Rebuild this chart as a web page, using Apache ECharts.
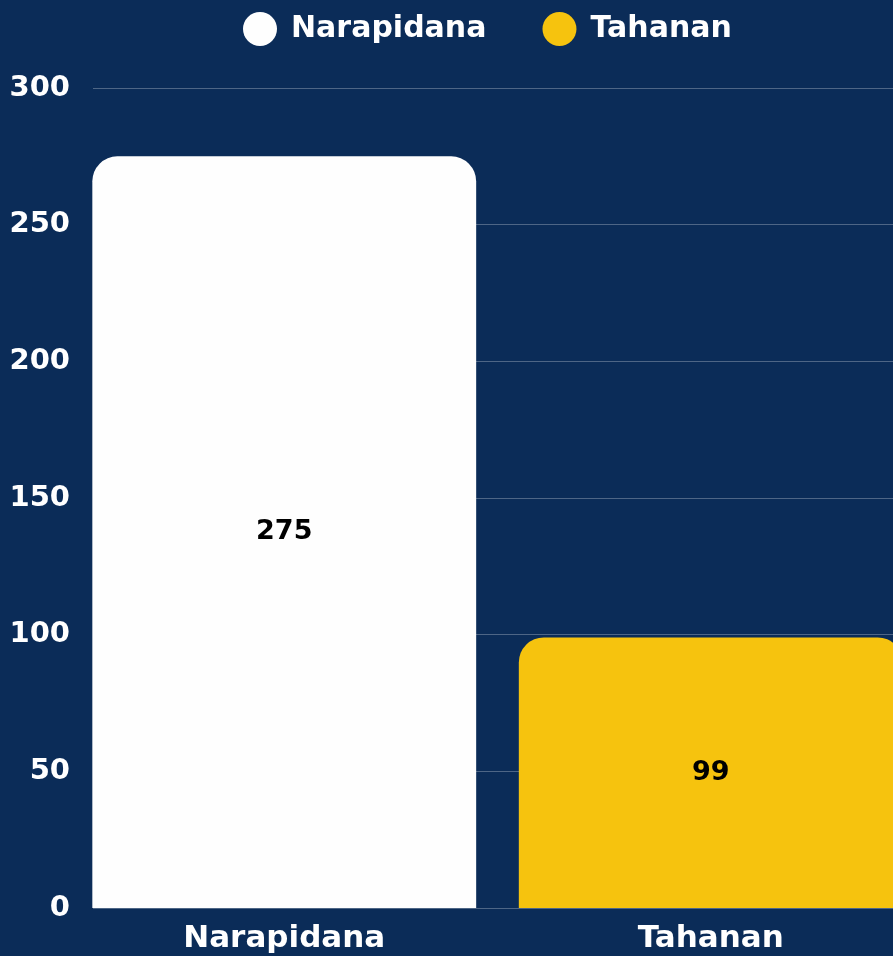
<!DOCTYPE html>
<html>
<head>
<meta charset="utf-8">
<script src="https://cdn.jsdelivr.net/npm/echarts@6/dist/echarts.min.js"></script>
<style>
  html, body { margin: 0; padding: 0; background: #0b2c58; }
  #chart { width: 893px; height: 956px; }
</style>
</head>
<body>
<div id="chart"></div>
<script>
// data
var categories = ["Narapidana", "Tahanan"];
var values = [275, 99];
var barColors = ["#fefefe", "#f6c30e"];
var yTicks = [0, 50, 100, 150, 200, 250, 300];

var font = "'DejaVu Sans', sans-serif";

var chart = echarts.init(document.getElementById("chart"));

// one series per category so the legend shows both
var series = categories.map(function (name, i) {
  return {
    name: name,
    type: "bar",
    xAxisIndex: 1,
    yAxisIndex: 1,
    stack: "all",
    barCategoryGap: "10%",
    data: values.map(function (v, j) { return j === i ? v : "-"; }),
    itemStyle: { color: barColors[i], borderRadius: [25, 25, 0, 0] },
    label: {
      show: true,
      position: "inside",
      color: "#000",
      fontFamily: font,
      fontWeight: "bold",
      fontSize: 27
    }
  };
});

var option = {
  backgroundColor: "#0b2c58",
  color: barColors,
  legend: {
    data: categories,
    top: 7,
    left: 238,
    icon: "circle",
    itemWidth: 34,
    itemHeight: 34,
    itemGap: 56,
    textStyle: {
      color: "#fff",
      fontFamily: font,
      fontWeight: "bold",
      fontSize: 30,
      padding: [0, 0, 0, 9]
    }
  },
  grid: [
    // grid for the gridlines and y labels
    { left: 93, right: 0, top: 88, bottom: 48, outerBoundsMode: "none" },
    // grid for the bars (runs past the right edge)
    { left: 71, right: -31, top: 88, bottom: 48, outerBoundsMode: "none" }
  ],
  xAxis: [
    { type: "category", gridIndex: 0, data: categories, show: false },
    {
      type: "category",
      gridIndex: 1,
      data: categories,
      axisLine: { show: false },
      axisTick: { show: false },
      axisLabel: {
        color: "#fff",
        fontFamily: font,
        fontWeight: "bold",
        fontSize: 31,
        margin: 15
      }
    }
  ],
  yAxis: [
    {
      type: "value",
      gridIndex: 0,
      min: yTicks[0],
      max: yTicks[yTicks.length - 1],
      interval: 50,
      axisLine: { show: false },
      axisTick: { show: false },
      axisLabel: {
        color: "#fff",
        fontFamily: font,
        fontWeight: "bold",
        fontSize: 29,
        margin: 23
      },
      splitLine: { lineStyle: { color: "rgba(255,255,255,0.28)", width: 1 } }
    },
    {
      type: "value",
      gridIndex: 1,
      min: yTicks[0],
      max: yTicks[yTicks.length - 1],
      interval: 50,
      show: false,
      splitLine: { show: false }
    }
  ],
  series: series
};

chart.setOption(option);
</script>
</body>
</html>
